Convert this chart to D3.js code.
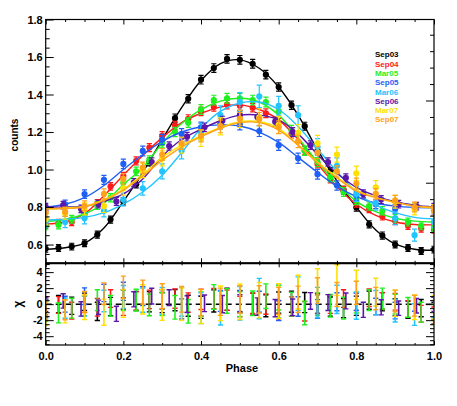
<!DOCTYPE html>
<html><head><meta charset="utf-8">
<script src="https://cdn.jsdelivr.net/npm/d3@7"></script>
<style>
body{margin:0;background:#fff}
svg{display:block}
text{font-family:"Liberation Sans",Arial,Helvetica,sans-serif;font-weight:bold;fill:#000}
</style>
</head><body>
<svg id="chart" width="457" height="406"></svg>
<script>
// ---------------- DATA ----------------
const seriesNames  = ["Sep03","Sep04","Mar05","Sep05","Mar06","Sep06","Mar07","Sep07"];
const seriesColors = ["#000000","#ff1a1a","#1ef01e","#1f5ff5","#22c4ff","#5a16a8","#ffe000","#ffa21a"];

const phases30 = [0,0.033,0.067,0.1,0.133,0.167,0.2,0.233,0.267,0.3,0.333,0.367,0.4,0.433,0.467,0.5,0.533,0.567,0.6,0.633,0.667,0.7,0.733,0.767,0.8,0.833,0.867,0.9,0.933,0.967,1.0];
const phases20 = [0,0.05,0.1,0.15,0.2,0.25,0.3,0.35,0.4,0.45,0.5,0.55,0.6,0.65,0.7,0.75,0.8,0.85,0.9,0.95,1.0];
const phases22 = [0,0.045,0.091,0.136,0.182,0.227,0.273,0.318,0.364,0.409,0.455,0.5,0.545,0.591,0.636,0.682,0.727,0.773,0.818,0.864,0.909,0.955,1.0];
const modelPhases = [0,0.05,0.1,0.15,0.2,0.25,0.3,0.35,0.4,0.45,0.5,0.55,0.6,0.65,0.7,0.75,0.8,0.85,0.9,0.95,1.0];

// Sep03 (black)
const countsSep03 = [0.577,0.582,0.589,0.607,0.653,0.733,0.830,0.922,1.040,1.155,1.274,1.377,1.479,1.541,1.590,1.585,1.564,1.506,1.440,1.343,1.231,1.100,0.990,0.890,0.798,0.708,0.648,0.600,0.582,0.566,0.573];
const errSep03    = [0.018,0.018,0.018,0.018,0.019,0.019,0.02,0.02,0.021,0.021,0.022,0.022,0.023,0.023,0.023,0.023,0.023,0.023,0.022,0.022,0.021,0.021,0.02,0.02,0.02,0.019,0.019,0.018,0.018,0.018,0.018];
const modelSep03  = [0.575,0.583,0.607,0.688,0.830,0.985,1.160,1.330,1.475,1.565,1.585,1.540,1.440,1.290,1.105,0.940,0.800,0.678,0.603,0.575,0.570];
const chiSep03    = [-0.5,0.0,-0.2,0.3,-0.9,-0.3,0.6,0.4,0.3,0.2,0.5,-0.2,-0.4,0.4,0.6,0.3,0.0,-0.2,0.2,0.3,0.2,0.1,-0.3,-0.5,-0.2,0.5,0.3,-0.4,-0.7,-0.5,-0.9];

// Sep04 (red)
const countsSep04 = [0.705,0.715,0.720,0.765,0.820,0.910,0.965,1.046,1.117,1.180,1.235,1.270,1.310,1.334,1.346,1.340,1.330,1.300,1.250,1.190,1.100,1.030,0.950,0.890,0.820,0.790,0.750,0.725,0.700,0.685,0.680];
const errSep04    = [0.019,0.019,0.019,0.019,0.02,0.02,0.02,0.021,0.021,0.022,0.022,0.022,0.023,0.023,0.023,0.023,0.023,0.023,0.022,0.022,0.022,0.021,0.021,0.02,0.02,0.02,0.019,0.019,0.019,0.019,0.019];
const modelSep04  = [0.71,0.72,0.765,0.86,0.97,1.075,1.17,1.25,1.30,1.333,1.345,1.32,1.265,1.16,1.03,0.91,0.815,0.755,0.72,0.707,0.705];
const chiSep04    = [-0.3,-0.1,-0.8,0.0,-0.4,0.7,-0.3,0.4,0.6,0.6,0.7,0.2,0.6,0.7,0.5,-0.3,0.1,0.0,-0.8,-0.3,-0.9,0.0,0.0,0.7,0.3,0.8,0.4,0.3,-0.6,-1.2,-1.4];

// Mar05 (green)
const countsMar05 = [0.700,0.705,0.735,0.760,0.810,0.850,0.930,0.990,1.050,1.140,1.200,1.250,1.320,1.370,1.380,1.380,1.370,1.360,1.310,1.210,1.100,1.040,0.960,0.880,0.835,0.805,0.780,0.740,0.720,0.700,0.690];
const errMar05    = [0.021,0.021,0.021,0.021,0.022,0.022,0.022,0.023,0.023,0.024,0.025,0.025,0.026,0.026,0.026,0.026,0.026,0.026,0.026,0.025,0.025,0.024,0.024,0.023,0.022,0.022,0.022,0.021,0.021,0.021,0.021];
const modelMar05  = [0.722,0.735,0.763,0.82,0.92,1.01,1.14,1.245,1.32,1.365,1.38,1.36,1.29,1.17,1.04,0.925,0.83,0.775,0.74,0.725,0.72];
const chiMar05    = [-0.9,-1.1,-0.5,-0.2,0.5,-0.2,0.5,0.5,-0.1,0.0,-0.4,-0.9,0.0,0.9,0.4,0.0,0.1,1.0,0.8,0.0,-1.1,0.0,-0.2,-0.5,0.2,0.5,0.7,0.0,-0.4,-1.0,-1.3];

// Sep05 (blue)
const countsSep05 = [0.790,0.815,0.869,0.945,1.030,1.099,1.160,1.190,1.225,1.245,1.240,1.205,1.130,1.060,0.975,0.915,0.860,0.815,0.790,0.800,0.785];
const errSep05    = [0.022,0.022,0.023,0.024,0.025,0.026,0.027,0.028,0.028,0.029,0.029,0.029,0.028,0.027,0.026,0.025,0.024,0.023,0.023,0.022,0.022];
const modelSep05  = [0.80,0.815,0.85,0.915,1.0,1.08,1.15,1.20,1.228,1.238,1.232,1.20,1.145,1.065,0.985,0.91,0.855,0.82,0.805,0.798,0.795];
const chiSep05    = [-0.6,0.0,1.0,1.4,1.6,1.0,0.6,-0.6,-0.2,0.4,0.4,0.3,-0.8,-0.3,-0.6,0.3,0.3,-0.3,-0.8,0.1,-0.6];

// Mar06 (light blue)
const countsMar06 = [0.720,0.720,0.740,0.780,0.840,0.900,0.990,1.100,1.200,1.290,1.360,1.390,1.340,1.290,1.120,1.020,0.870,0.820,0.740,0.650,0.720];
const errMar06    = [0.03,0.03,0.03,0.032,0.034,0.036,0.04,0.043,0.046,0.05,0.05,0.06,0.05,0.05,0.045,0.042,0.04,0.036,0.034,0.032,0.03];
const modelMar06  = [0.731,0.735,0.745,0.77,0.816,0.88,0.97,1.09,1.22,1.31,1.355,1.36,1.32,1.23,1.11,0.99,0.88,0.81,0.77,0.745,0.736];
const chiMar06    = [-0.6,-0.5,-0.2,0.4,0.9,0.5,0.4,0.3,-0.5,-0.5,0.1,0.7,0.4,1.3,0.2,0.6,-0.2,0.2,-0.8,-1.3,-0.4];

// Sep06 (purple)
const countsSep06 = [0.800,0.810,0.790,0.815,0.830,0.930,1.040,1.125,1.175,1.225,1.260,1.290,1.280,1.255,1.200,1.130,1.040,0.955,0.870,0.840,0.815,0.805,0.800];
const errSep06    = [0.02,0.02,0.02,0.02,0.021,0.021,0.022,0.022,0.023,0.023,0.024,0.024,0.024,0.024,0.023,0.023,0.022,0.022,0.021,0.021,0.02,0.02,0.02];
const modelSep06  = [0.80,0.80,0.805,0.83,0.87,0.95,1.07,1.16,1.215,1.26,1.29,1.29,1.265,1.19,1.08,0.98,0.905,0.86,0.828,0.81,0.80];
const chiSep06    = [0.0,0.4,-0.6,-0.4,-1.2,0.6,1.0,0.8,0.0,0.1,0.0,0.1,-0.3,-0.5,-0.4,0.4,0.2,0.4,-0.7,-0.4,-0.5,-0.2,0.0];

// Mar07 (yellow)
const countsMar07 = [0.735,0.765,0.790,0.805,0.900,0.995,1.060,1.130,1.167,1.230,1.270,1.278,1.238,1.196,1.140,1.080,0.980,0.905,0.828,0.790,0.783];
const errMar07    = [0.03,0.03,0.032,0.034,0.036,0.038,0.04,0.042,0.044,0.045,0.046,0.046,0.045,0.044,0.042,0.04,0.038,0.036,0.034,0.032,0.03];
const modelMar07  = [0.79,0.795,0.805,0.84,0.895,0.975,1.065,1.13,1.18,1.225,1.255,1.255,1.22,1.13,1.04,0.96,0.89,0.85,0.825,0.805,0.795];
const chiMar07    = [-1.2,-0.9,-0.4,-1.0,0.1,0.6,-0.1,0.0,-0.3,0.1,0.3,0.5,0.4,1.5,2.4,3.0,2.4,1.5,0.1,-0.4,-0.4];

// Sep07 (orange)
const countsSep07 = [0.770,0.775,0.807,0.870,0.950,1.010,1.080,1.140,1.180,1.230,1.270,1.270,1.225,1.150,1.090,0.990,0.925,0.870,0.835,0.800,0.780];
const errSep07    = [0.025,0.025,0.026,0.027,0.028,0.03,0.031,0.032,0.033,0.034,0.034,0.034,0.034,0.033,0.032,0.03,0.029,0.028,0.027,0.026,0.025];
const modelSep07  = [0.79,0.792,0.80,0.835,0.89,0.965,1.05,1.12,1.175,1.22,1.25,1.25,1.21,1.13,1.035,0.955,0.885,0.85,0.825,0.805,0.80];
const chiSep07    = [-0.8,-0.7,0.3,1.3,2.1,1.5,1.0,0.6,0.2,0.3,0.6,0.6,0.4,0.6,1.7,1.2,1.4,0.7,0.4,-0.2,-0.8];

// chi error per unit of count error, per series
const chiErrPerCount = [60,55,59,45,42,45,48,50];

// ticks
const xMajorTicks = [0,0.2,0.4,0.6,0.8,1.0];
const xTickLabels = ["0.0","0.2","0.4","0.6","0.8","1.0"];
const yTopTicks = [0.6,0.8,1.0,1.2,1.4,1.6,1.8];
const yTopTickLabels = ["0.6","0.8","1.0","1.2","1.4","1.6","1.8"];
const yBotTicks = [-4,-2,0,2,4];
const yBotTickLabels = ["-4","-2","0","2","4"];

const series = [
  {ph:phases30, y:countsSep03, e:errSep03, m:modelSep03, chi:chiSep03},
  {ph:phases30, y:countsSep04, e:errSep04, m:modelSep04, chi:chiSep04},
  {ph:phases30, y:countsMar05, e:errMar05, m:modelMar05, chi:chiMar05},
  {ph:phases20, y:countsSep05, e:errSep05, m:modelSep05, chi:chiSep05},
  {ph:phases20, y:countsMar06, e:errMar06, m:modelMar06, chi:chiMar06},
  {ph:phases22, y:countsSep06, e:errSep06, m:modelSep06, chi:chiSep06},
  {ph:phases20, y:countsMar07, e:errMar07, m:modelMar07, chi:chiMar07},
  {ph:phases20, y:countsSep07, e:errSep07, m:modelSep07, chi:chiSep07}
];

// ---------------- LAYOUT ----------------
const PX0 = 45.7, PX1 = 434;
const TOP0 = 19.5, TOP1 = 263.3;
const BOT0 = 263.3, BOT1 = 345;

const svg = d3.select("#chart");
svg.append("rect").attr("width",457).attr("height",406).attr("fill","#fff");

const x = d3.scaleLinear().domain([0,1]).range([PX0,PX1]);
const yTop = d3.scaleLinear().domain([0.5,1.8]).range([TOP1,TOP0]);
const yTopRight = d3.scaleLinear().domain([0.02,2.985]).range([TOP1,TOP0]);
const yBot = d3.scaleLinear().domain([-5.1,5.1]).range([BOT1,BOT0]);

const xMinor = d3.range(0,1.0001,0.05).filter(v => Math.abs(v*5-Math.round(v*5))>1e-6);
const yTopMinor = d3.range(0.5,1.8001,0.05).filter(v => Math.abs(v*5-Math.round(v*5))>1e-6);
const yBotMinor = d3.range(-5,5.001,0.5).filter(v => Math.abs(v/2-Math.round(v/2))>1e-6);
const yRightMajor = [1,2];
const yRightMinor = d3.range(0.2,2.99,0.2).filter(v => Math.abs(v-Math.round(v))>1e-6);

svg.append("clipPath").attr("id","clipTop").append("rect")
  .attr("x",PX0).attr("y",TOP0).attr("width",PX1-PX0).attr("height",TOP1-TOP0);
svg.append("clipPath").attr("id","clipBot").append("rect")
  .attr("x",PX0).attr("y",BOT0).attr("width",PX1-PX0).attr("height",BOT1-BOT0);

// ------------- upper panel data -------------
const gTop = svg.append("g").attr("clip-path","url(#clipTop)");
const line = d3.line().x(d=>x(d[0])).y(d=>yTop(d[1])).curve(d3.curveCatmullRom.alpha(0.5));

series.forEach((s,i) => {
  const col = seriesColors[i];
  const g = gTop.append("g");
  g.append("path").datum(modelPhases.map((p,j)=>[p,s.m[j]]))
    .attr("d",line).attr("fill","none").attr("stroke",col).attr("stroke-width",1.4);
  const pts = s.ph.map((p,j)=>({p, v:s.y[j], e:s.e[j]}));
  g.selectAll(null).data(pts).enter().append("line")
    .attr("x1",d=>x(d.p)).attr("x2",d=>x(d.p))
    .attr("y1",d=>yTop(d.v-d.e)).attr("y2",d=>yTop(d.v+d.e))
    .attr("stroke",col).attr("stroke-width",1.2);
  [-1,1].forEach(sg=>{
    g.selectAll(null).data(pts).enter().append("line")
      .attr("x1",d=>x(d.p)-2.6).attr("x2",d=>x(d.p)+2.6)
      .attr("y1",d=>yTop(d.v+sg*d.e)).attr("y2",d=>yTop(d.v+sg*d.e))
      .attr("stroke",col).attr("stroke-width",1.2);
  });
  g.selectAll(null).data(pts).enter().append("circle")
    .attr("cx",d=>x(d.p)).attr("cy",d=>yTop(d.v)).attr("r",3.1).attr("fill",col);
});

// ------------- lower panel residuals -------------
const gBot = svg.append("g").attr("clip-path","url(#clipBot)");
gBot.append("line").attr("x1",PX0).attr("x2",PX1).attr("y1",yBot(0)).attr("y2",yBot(0))
  .attr("stroke","#000").attr("stroke-width",1.5).attr("stroke-dasharray","6,4");
series.forEach((s,i) => {
  const col = seriesColors[i];
  const k = chiErrPerCount[i];
  const pts = s.ph.map((p,j)=>({p, c:s.chi[j], h:s.e[j]*k}));
  const g = gBot.append("g");
  g.selectAll(null).data(pts).enter().append("line")
    .attr("x1",d=>x(d.p)).attr("x2",d=>x(d.p))
    .attr("y1",d=>yBot(d.c-d.h)).attr("y2",d=>yBot(d.c+d.h))
    .attr("stroke",col).attr("stroke-width",1.6);
  [-1,1].forEach(sg=>{
    g.selectAll(null).data(pts).enter().append("line")
      .attr("x1",d=>x(d.p)-2.6).attr("x2",d=>x(d.p)+2.6)
      .attr("y1",d=>yBot(d.c+sg*d.h)).attr("y2",d=>yBot(d.c+sg*d.h))
      .attr("stroke",col).attr("stroke-width",1.4);
  });
});

// ------------- axes -------------
function axisG(axis, tx, ty){
  const g = svg.append("g").attr("transform",`translate(${tx},${ty})`).call(axis);
  g.select(".domain").remove();
  g.selectAll(".tick line").attr("stroke","#000").attr("stroke-width",1);
  g.selectAll(".tick text").attr("font-size",11).attr("font-family","Liberation Sans, Arial, sans-serif").attr("font-weight","bold").attr("fill","#000");
  return g;
}
const fmtFrom = (vals, labels) => v => { const i = vals.findIndex(t=>Math.abs(t-v)<1e-9); return i>=0?labels[i]:""; };

// upper panel
axisG(d3.axisLeft(yTop).tickValues(yTopTicks).tickSize(-8).tickPadding(3).tickFormat(fmtFrom(yTopTicks,yTopTickLabels)), PX0, 0);
axisG(d3.axisLeft(yTop).tickValues(yTopMinor).tickSize(-4).tickFormat(""), PX0, 0);
axisG(d3.axisRight(yTopRight).tickValues(yRightMajor).tickSize(-8).tickFormat(""), PX1, 0);
axisG(d3.axisRight(yTopRight).tickValues(yRightMinor).tickSize(-4).tickFormat(""), PX1, 0);
axisG(d3.axisTop(x).tickValues(xMajorTicks).tickSize(-5).tickFormat(""), 0, TOP0);
axisG(d3.axisTop(x).tickValues(xMinor).tickSize(-2.5).tickFormat(""), 0, TOP0);
axisG(d3.axisBottom(x).tickValues(xMajorTicks).tickSize(-5).tickFormat(""), 0, TOP1);
axisG(d3.axisBottom(x).tickValues(xMinor).tickSize(-2.5).tickFormat(""), 0, TOP1);

// lower panel
axisG(d3.axisLeft(yBot).tickValues(yBotTicks).tickSize(-8).tickPadding(3).tickFormat(fmtFrom(yBotTicks,yBotTickLabels)), PX0, 0);
axisG(d3.axisLeft(yBot).tickValues(yBotMinor).tickSize(-4).tickFormat(""), PX0, 0);
axisG(d3.axisRight(yBot).tickValues(yBotTicks).tickSize(-8).tickFormat(""), PX1, 0);
axisG(d3.axisRight(yBot).tickValues(yBotMinor).tickSize(-4).tickFormat(""), PX1, 0);
axisG(d3.axisTop(x).tickValues(xMajorTicks).tickSize(-4).tickFormat(""), 0, BOT0);
axisG(d3.axisTop(x).tickValues(xMinor).tickSize(-2).tickFormat(""), 0, BOT0);
axisG(d3.axisBottom(x).tickValues(xMajorTicks).tickSize(-4).tickPadding(7).tickFormat(fmtFrom(xMajorTicks,xTickLabels)), 0, BOT1);
axisG(d3.axisBottom(x).tickValues(xMinor).tickSize(-2).tickFormat(""), 0, BOT1);

// frames
svg.append("rect").attr("x",PX0).attr("y",TOP0).attr("width",PX1-PX0).attr("height",TOP1-TOP0)
  .attr("fill","none").attr("stroke","#000").attr("stroke-width",1.2);
svg.append("rect").attr("x",PX0).attr("y",BOT0).attr("width",PX1-PX0).attr("height",BOT1-BOT0)
  .attr("fill","none").attr("stroke","#000").attr("stroke-width",1.2);
svg.append("line").attr("x1",PX0).attr("x2",PX1).attr("y1",BOT0).attr("y2",BOT0)
  .attr("stroke","#000").attr("stroke-width",2);

// titles
svg.append("text").attr("x",242).attr("y",372).attr("text-anchor","middle").attr("font-size",11).text("Phase");
svg.append("text").attr("transform","translate(18,135) rotate(-90)").attr("text-anchor","middle").attr("font-size",10).text("counts");
svg.append("text").attr("transform","translate(22,304) rotate(-90)").attr("text-anchor","middle").attr("font-size",12).attr("font-weight","normal").text("χ");

// legend
const legend = svg.append("g");
seriesNames.forEach((n,i)=>{
  legend.append("text").attr("x",375).attr("y",57.3+i*9.3)
    .attr("font-family","DejaVu Sans, Verdana, sans-serif").attr("font-size",8)
    .attr("font-weight","bold")
    .style("fill",seriesColors[i]).text(n);
});
</script>
</body></html>
